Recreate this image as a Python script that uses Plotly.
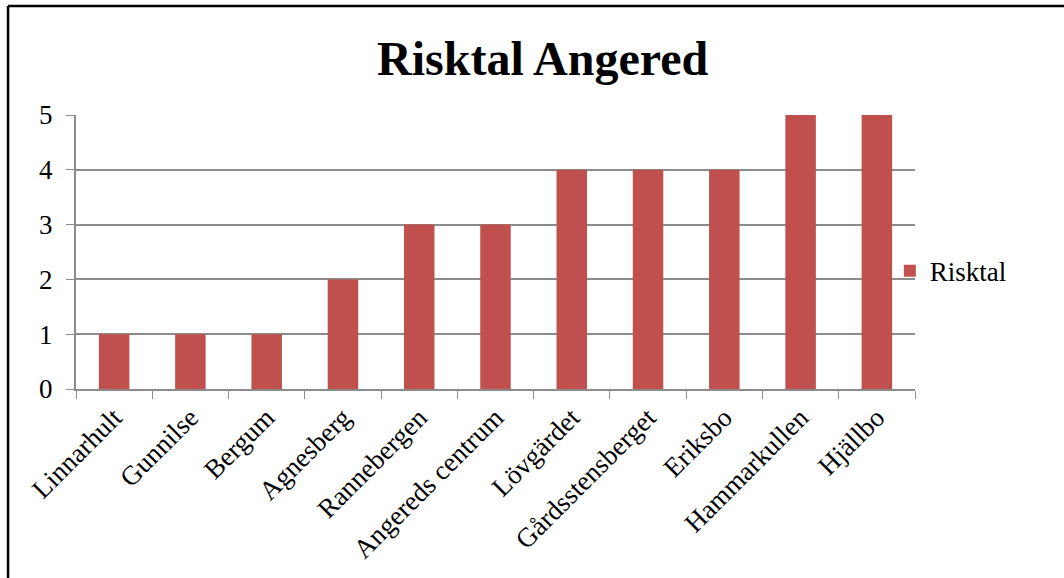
import plotly.graph_objects as go

# Risk score per district in Angered
omraden = ["Linnarhult", "Gunnilse", "Bergum", "Agnesberg", "Rannebergen",
           "Angereds centrum", "Lövgärdet", "Gårdsstensberget", "Eriksbo",
           "Hammarkullen", "Hjällbo"]
risktal = [1, 1, 1, 2, 3, 3, 4, 4, 4, 5, 5]
y_ticks = [0, 1, 2, 3, 4, 5]

serif = "Liberation Serif, Times New Roman, serif"
bar_color = "#C0504D"
grid_color = "#8C8C8C"

fig = go.Figure(go.Bar(
    x=omraden,
    y=risktal,
    name="Risktal",
    marker=dict(color=bar_color, line=dict(width=0)),
    showlegend=True,
))

fig.update_layout(
    width=1064,
    height=578,
    margin=dict(l=76, r=149, t=115, b=189),
    paper_bgcolor="white",
    plot_bgcolor="white",
    bargap=0.6,
    font=dict(family=serif, size=27, color="black"),
    title=dict(
        text="<b>Risktal Angered</b>",
        font=dict(family=serif, size=48, color="black"),
        x=0.51, xanchor="center",
        y=0.9, yanchor="middle",
    ),
    legend=dict(
        x=0.97, xanchor="left",
        y=0.43, yanchor="middle",
        font=dict(family=serif, size=27, color="black"),
        bgcolor="rgba(0,0,0,0)",
        itemwidth=30,
    ),
    xaxis=dict(
        tickangle=-45,
        tickson="boundaries",
        ticks="outside",
        ticklen=8,
        tickcolor=grid_color,
        showline=True,
        linecolor=grid_color,
        linewidth=2,
        showgrid=False,
        automargin=False,
        tickfont=dict(family=serif, size=27, color="black"),
    ),
    yaxis=dict(
        range=[0, 5],
        tickvals=y_ticks,
        ticks="outside",
        ticklen=8,
        tickcolor=grid_color,
        showline=True,
        linecolor=grid_color,
        linewidth=2,
        showgrid=True,
        gridcolor=grid_color,
        gridwidth=1.5,
        zeroline=False,
        automargin=False,
        tickfont=dict(family=serif, size=27, color="black"),
        ticklabelstandoff=8,
    ),
    shapes=[
        dict(type="line", xref="paper", yref="paper",
             x0=-0.081, x1=1.2, y0=1.398, y1=1.398,
             line=dict(color="black", width=2.5)),
        dict(type="line", xref="paper", yref="paper",
             x0=-0.081, x1=-0.081, y0=1.398, y1=-0.8,
             line=dict(color="black", width=2.5)),
    ],
)

fig.write_html("out.html")
